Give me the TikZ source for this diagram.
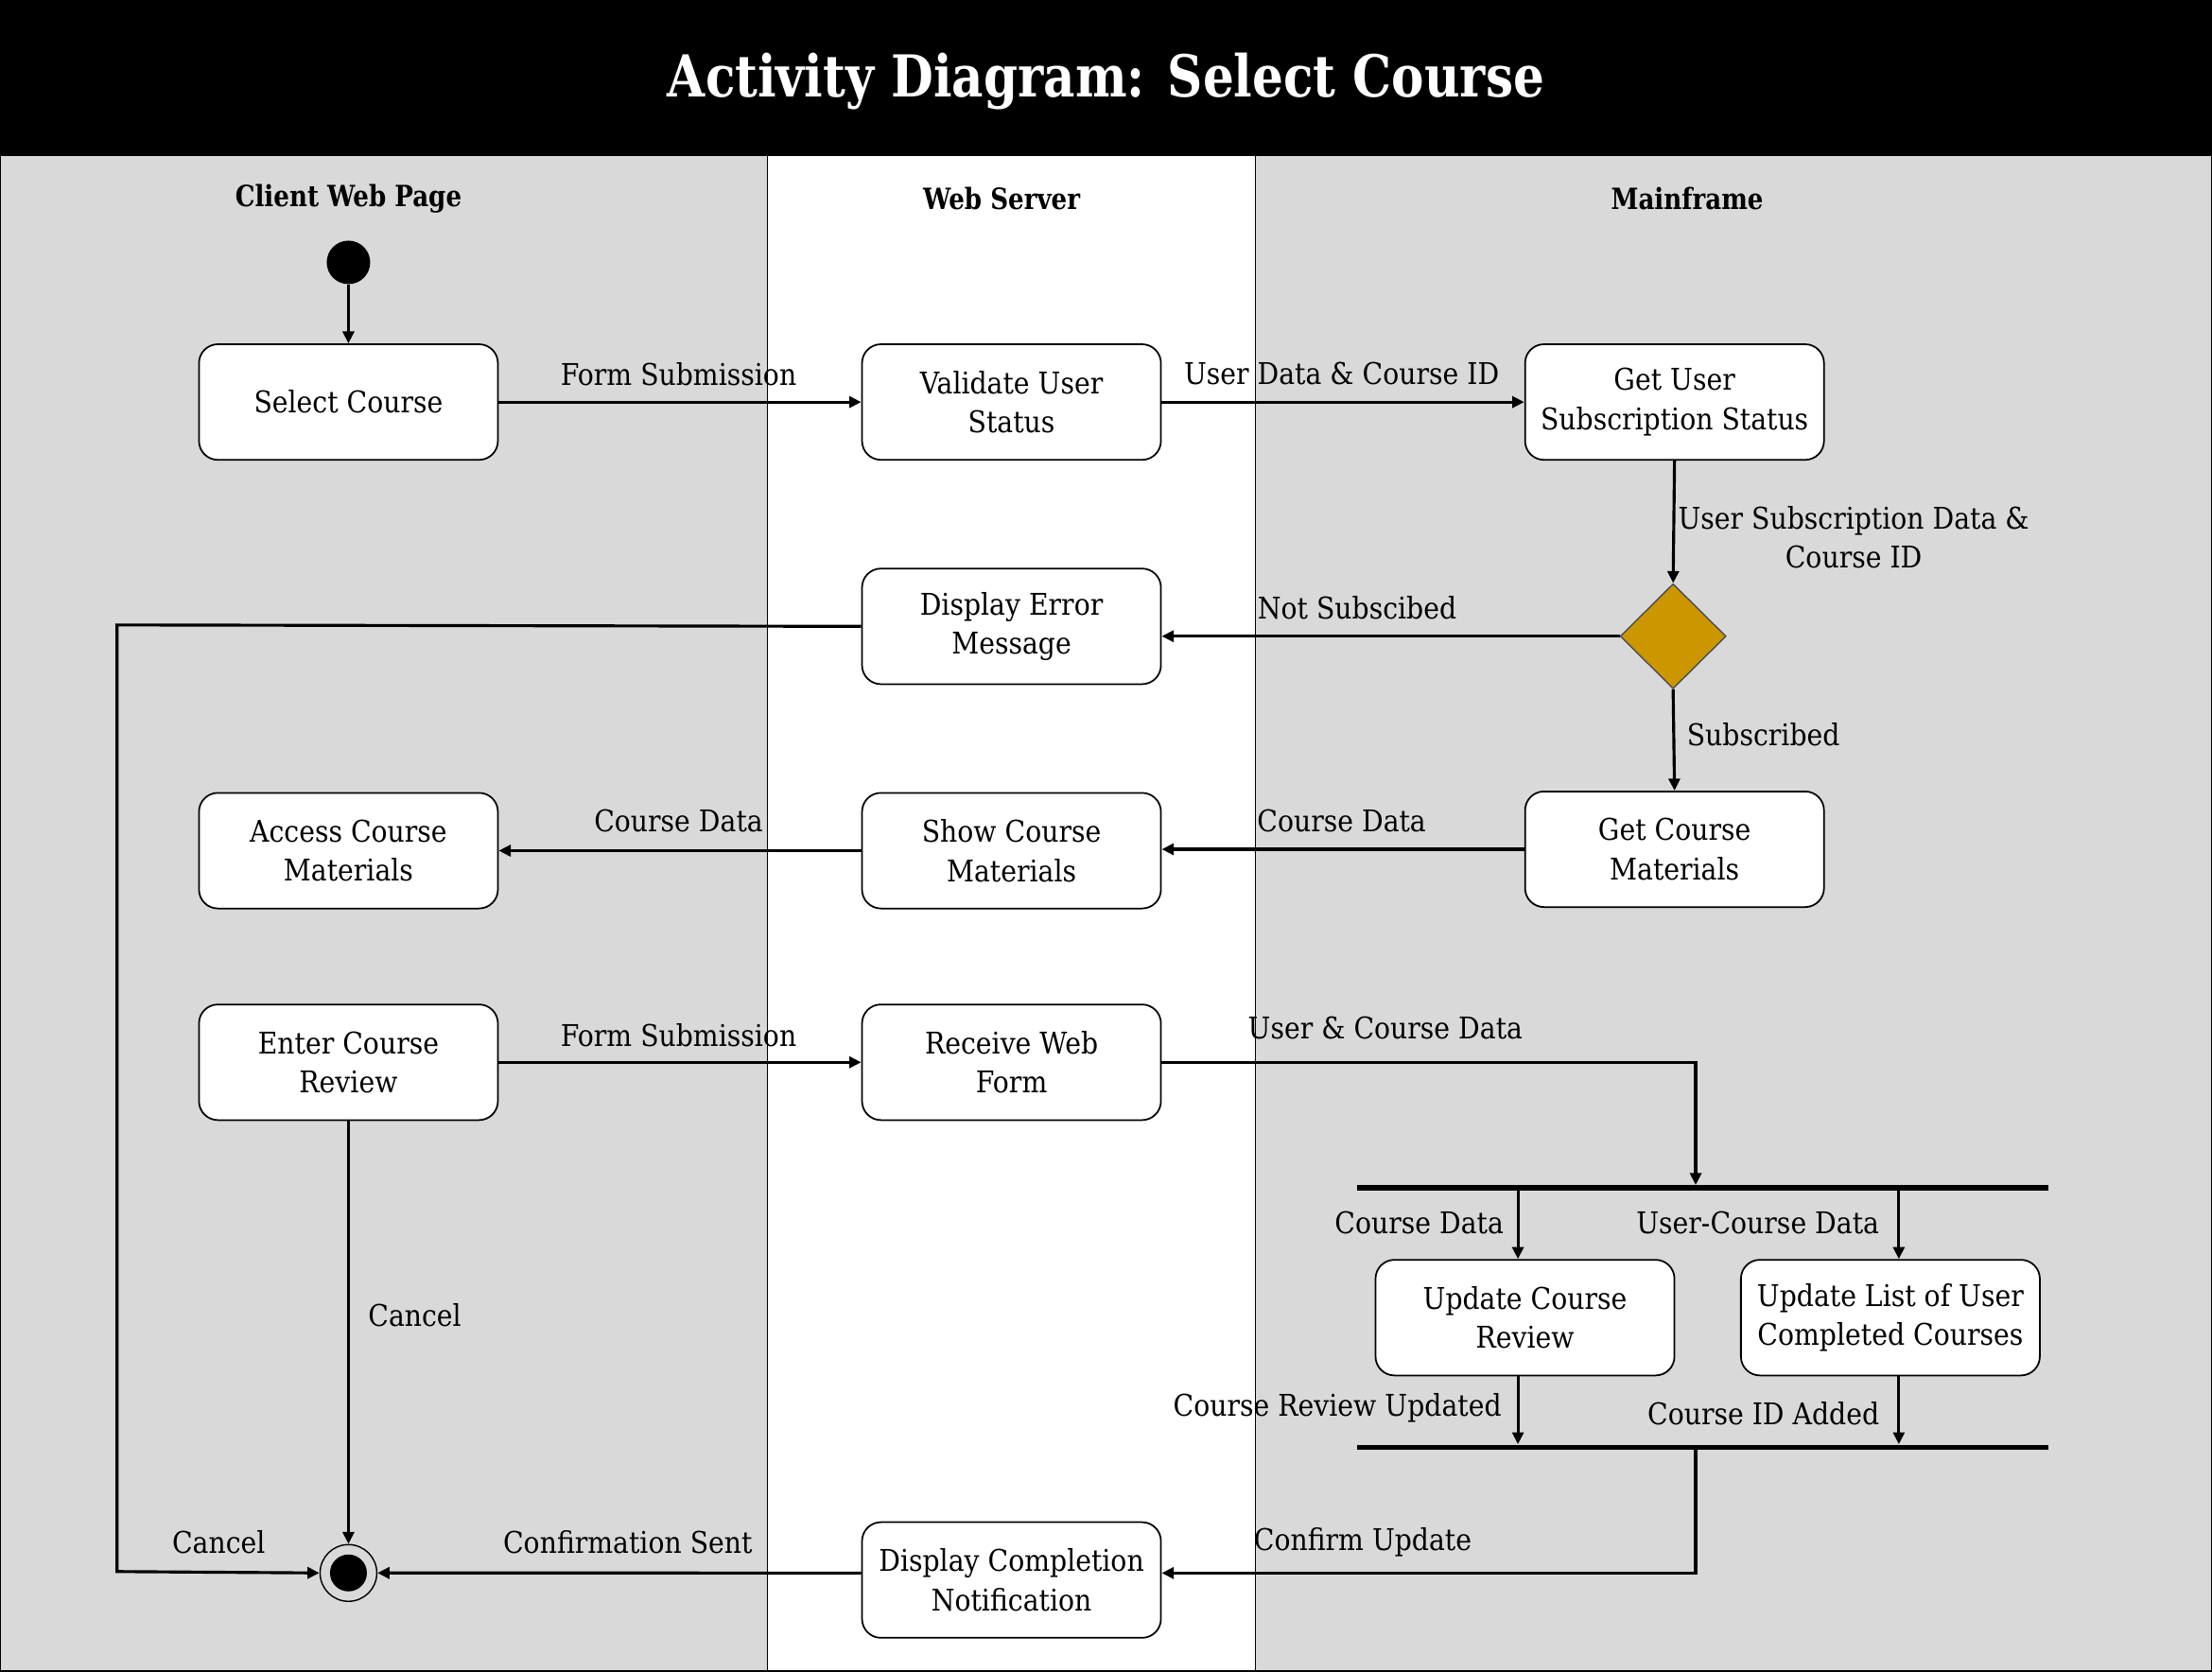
\documentclass[tikz,border=0pt]{standalone}
\usepackage{fontspec}
\setmainfont{DejaVu Serif}[FakeStretch=0.895]
\newfontfamily\headfont{DejaVu Serif}[FakeStretch=0.845]
\usetikzlibrary{arrows.meta,shapes.geometric,calc}
\definecolor{lanegray}{HTML}{D9D9D9}
\definecolor{gold}{HTML}{CC9600}
\tikzset{
  act/.style={draw=black, line width=0.5pt, fill=white, rounded corners=0.2cm,
    minimum width=3.162cm, minimum height=1.223cm, align=center, inner sep=1pt,
    font=\fontsize{9}{11.8}\selectfont},
  lbl/.style={align=center, inner sep=0pt, font=\fontsize{9}{11.6}\selectfont},
  hdr/.style={inner sep=0pt, font=\headfont\bfseries\fontsize{8.8}{11}\selectfont},
  arr/.style={draw=black, line width=0.9pt, -{Triangle[length=3.6pt,width=3.4pt]}},
  lane/.style={draw=black, line width=0.4pt},
  bar/.style={fill=black, draw=none, minimum width=7.31cm, minimum height=1.5pt, inner sep=0pt},
}
\begin{document}
\begin{tikzpicture}[x=0.014917cm, y=-0.014917cm]
\useasboundingbox (0,0) rectangle (1568,1184.6);
% title bar and lanes
\fill[black] (0,0) rectangle (1568,110);
\filldraw[lane, fill=lanegray] (0,110) rectangle (544,1184.6);
\filldraw[lane, fill=white] (544,110) rectangle (890,1184.6);
\filldraw[lane, fill=lanegray] (890,110) rectangle (1568,1184.6);
\node[text=white, inner sep=0pt, font=\headfont\bfseries\fontsize{17.4}{20}\selectfont] (title) at (784,58) {Activity Diagram: Select Course};
\node[hdr] (h1) at (247,141) {Client Web Page};
\node[hdr] (h2) at (710,141) {Web Server};
\node[hdr] (h3) at (1196,141) {Mainframe};

% nodes
\node[circle, fill=black, minimum size=0.46cm, inner sep=0pt] (start) at (247,186) {};
\node[act] (sc) at (247,285) {Select Course};
\node[act] (vus) at (717,285) {Validate User\\Status};
\node[act] (gus) at (1187,285) {Get User\\Subscription Status};
\node[diamond, draw=black!70, line width=0.4pt, fill=gold, minimum width=1.12cm, minimum height=1.11cm, inner sep=0pt, aspect=1] (dec) at (1186,451) {};
\node[act] (err) at (717,444) {Display Error\\Message};
\node[act] (acm) at (247,603) {Access Course\\Materials};
\node[act] (scm) at (717,603) {Show Course\\Materials};
\node[act] (gcm) at (1187,602) {Get Course\\Materials};
\node[act] (ecr) at (247,753) {Enter Course\\Review};
\node[act] (rwf) at (717,753) {Receive Web\\Form};
\node[bar] (fork) at (1207,842) {};
\node[act] (ucr) at (1081,934) {Update Course\\Review};
\node[act] (ulc) at (1340,934) {Update List of User\\Completed Courses};
\node[bar] (join) at (1207,1026) {};
\node[act] (dcn) at (717,1120) {Display Completion\\Notification};
\node[circle, draw=black, line width=0.4pt, fill=none, minimum size=0.6cm, inner sep=0pt] (endo) at (247,1115) {};
\node[circle, fill=black, minimum size=0.39cm, inner sep=0pt] (endi) at (247,1115) {};

% helper coordinates
\coordinate (fk) at (1202,840);
\coordinate (f1) at (1076,843);
\coordinate (f2) at (1346,843);
\coordinate (j1) at (1076,975);
\coordinate (j2) at (1346,975);
\coordinate (jn) at (1202,1028);
\coordinate (c1) at (83,443);
\coordinate (c2) at (83,1114);

% edges
\draw[arr] (start) -- (sc.north);
\draw[arr] (sc.east) -- (vus.west);
\draw[arr] (vus.east) -- (gus.west);
\draw[arr] (gus.south) -- (dec.north);
\draw[arr] (dec.west) -- (dec.west -| err.east);
\draw[arr] (dec.south) -- (gcm.north);
\draw[arr] (gcm.west) -- (gcm.west -| scm.east);
\draw[arr] (scm.west) -- (acm.east);
\draw[arr] (ecr.east) -- (rwf.west);
\draw[arr] (rwf.east) -| (fk);
\draw[arr] (f1) -- (f1 |- ucr.north);
\draw[arr] (f2) -- (f2 |- ulc.north);
\draw[arr] (j1) -- (j1 |- join.north);
\draw[arr] (j2) -- (j2 |- join.north);
\draw[arr] (jn) |- ([yshift=2.1pt]dcn.east);
\draw[arr] ([yshift=2.1pt]dcn.west) -- (endo.east);
\draw[arr] (ecr.south) -- (endo.north);
\draw[arr] (err.west) -- (c1) -- (c2) -- (endo.west);

% labels
\node[lbl] (l1) at (481,265) {Form Submission};
\node[lbl] (l2) at (951,265) {User Data \& Course ID};
\node[lbl] (l3) at (1314,381) {User Subscription Data \&\\Course ID};
\node[lbl] (l4) at (962,431) {Not Subscibed};
\node[lbl] (l5) at (1250,521) {Subscribed};
\node[lbl] (l6) at (951,582) {Course Data};
\node[lbl] (l7) at (481,582) {Course Data};
\node[lbl] (l8) at (481,734) {Form Submission};
\node[lbl] (l9) at (982,729) {User \& Course Data};
\node[lbl] (l10) at (1006,867) {Course Data};
\node[lbl] (l11) at (1246,867) {User-Course Data};
\node[lbl] (l12) at (948,998) {Course Review Updated};
\node[lbl] (l13) at (1250,1002) {Course ID Added};
\node[lbl] (l14) at (966,1093) {Confirm Update};
\node[lbl] (l15) at (445,1093) {Confirmation Sent};
\node[lbl] (l16) at (294,932) {Cancel};
\node[lbl] (l17) at (155,1093) {Cancel};
\end{tikzpicture}
\end{document}
